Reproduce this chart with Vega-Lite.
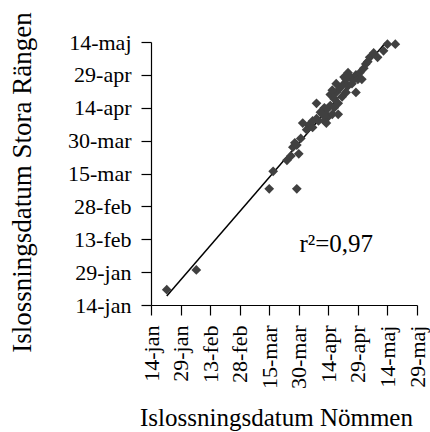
{
  "$schema": "https://vega.github.io/schema/vega-lite/v6.json",
  "autosize": {"type": "none"},
  "width": 266,
  "height": 263,
  "padding": {"left": 151, "top": 42, "right": 13, "bottom": 127},
  "background": "white",
  "config": {
    "view": {"stroke": null},
    "font": "Liberation Serif",
    "axis": {
      "grid": false,
      "domainColor": "black",
      "tickColor": "black",
      "labelColor": "black",
      "titleColor": "black",
      "labelFont": "Liberation Serif",
      "titleFont": "Liberation Serif",
      "labelFontSize": 22,
      "titleFontWeight": "normal",
      "tickSize": 10,
      "labelPadding": 10,
      "labelFlush": false,
      "labelOverlap": false,
      "domainWidth": 1.2,
      "tickWidth": 1.2
    }
  },
  "datasets": {
    "breakup": [
      {"n": "2001-01-22", "s": "2001-01-21"},
      {"n": "2001-02-06", "s": "2001-01-30"},
      {"n": "2001-03-15", "s": "2001-03-08"},
      {"n": "2001-03-29", "s": "2001-03-08"},
      {"n": "2001-03-17", "s": "2001-03-16"},
      {"n": "2001-03-24", "s": "2001-03-21"},
      {"n": "2001-03-27", "s": "2001-03-27"},
      {"n": "2001-03-30", "s": "2001-03-24"},
      {"n": "2001-03-28", "s": "2001-03-29"},
      {"n": "2001-03-31", "s": "2001-03-31"},
      {"n": "2001-04-01", "s": "2001-04-07"},
      {"n": "2001-04-04", "s": "2001-04-06"},
      {"n": "2001-04-06", "s": "2001-04-05"},
      {"n": "2001-04-08", "s": "2001-04-16"},
      {"n": "2001-04-09", "s": "2001-04-08"},
      {"n": "2001-04-11", "s": "2001-04-11"},
      {"n": "2001-04-12", "s": "2001-04-08"},
      {"n": "2001-04-13", "s": "2001-04-13"},
      {"n": "2001-04-14", "s": "2001-04-10"},
      {"n": "2001-04-15", "s": "2001-04-15"},
      {"n": "2001-04-16", "s": "2001-04-11"},
      {"n": "2001-04-17", "s": "2001-04-18"},
      {"n": "2001-04-17", "s": "2001-04-14"},
      {"n": "2001-04-18", "s": "2001-04-21"},
      {"n": "2001-04-19", "s": "2001-04-16"},
      {"n": "2001-04-20", "s": "2001-04-23"},
      {"n": "2001-04-21", "s": "2001-04-19"},
      {"n": "2001-04-22", "s": "2001-04-25"},
      {"n": "2001-04-23", "s": "2001-04-21"},
      {"n": "2001-04-23", "s": "2001-04-27"},
      {"n": "2001-04-24", "s": "2001-04-24"},
      {"n": "2001-04-25", "s": "2001-04-28"},
      {"n": "2001-04-26", "s": "2001-04-25"},
      {"n": "2001-04-27", "s": "2001-04-27"},
      {"n": "2001-04-28", "s": "2001-04-29"},
      {"n": "2001-04-28", "s": "2001-04-21"},
      {"n": "2001-04-29", "s": "2001-04-27"},
      {"n": "2001-04-30", "s": "2001-04-30"},
      {"n": "2001-05-02", "s": "2001-05-02"},
      {"n": "2001-05-03", "s": "2001-05-04"},
      {"n": "2001-05-04", "s": "2001-05-05"},
      {"n": "2001-05-05", "s": "2001-05-07"},
      {"n": "2001-05-07", "s": "2001-05-09"},
      {"n": "2001-05-12", "s": "2001-05-10"},
      {"n": "2001-05-14", "s": "2001-05-13"},
      {"n": "2001-05-18", "s": "2001-05-13"},
      {"n": "2001-04-12", "s": "2001-04-14"},
      {"n": "2001-04-10", "s": "2001-04-12"},
      {"n": "2001-04-06", "s": "2001-04-08"},
      {"n": "2001-04-03", "s": "2001-04-04"},
      {"n": "2001-04-18", "s": "2001-04-25"},
      {"n": "2001-04-22", "s": "2001-04-28"},
      {"n": "2001-04-15", "s": "2001-04-20"},
      {"n": "2001-04-16", "s": "2001-04-22"},
      {"n": "2001-04-24", "s": "2001-04-30"},
      {"n": "2001-04-19", "s": "2001-04-11"},
      {"n": "2001-04-13", "s": "2001-04-07"},
      {"n": "2001-04-08", "s": "2001-04-09"},
      {"n": "2001-05-01", "s": "2001-04-27"},
      {"n": "2001-05-09", "s": "2001-05-07"},
      {"n": "2001-03-29", "s": "2001-03-28"},
      {"n": "2001-03-26", "s": "2001-03-23"}
    ],
    "note": [{"label": "r²=0,97"}]
  },
  "layer": [
    {
      "data": {"name": "breakup", "format": {"parse": {"n": "date", "s": "date"}}},
      "transform": [{"regression": "s", "on": "n"}],
      "mark": {"type": "line", "color": "black", "strokeWidth": 1.5, "clip": true},
      "encoding": {
        "x": {
          "field": "n",
          "type": "temporal",
          "scale": {
            "type": "utc",
            "nice": false,
            "domain": [
              {"year": 2001, "month": 1, "date": 14, "utc": true},
              {"year": 2001, "month": 5, "date": 29, "utc": true}
            ]
          },
          "axis": {
            "title": "Islossningsdatum Nömmen",
            "titleFontSize": 25,
            "titleX": 125,
            "titleY": 120,
            "titleAlign": "center",
            "titleBaseline": "alphabetic",
            "labelAngle": 270,
            "tickCount": 30,
            "values": [
              {"year": 2001, "month": 1, "date": 14, "utc": true},
              {"year": 2001, "month": 1, "date": 29, "utc": true},
              {"year": 2001, "month": 2, "date": 13, "utc": true},
              {"year": 2001, "month": 2, "date": 28, "utc": true},
              {"year": 2001, "month": 3, "date": 15, "utc": true},
              {"year": 2001, "month": 3, "date": 30, "utc": true},
              {"year": 2001, "month": 4, "date": 14, "utc": true},
              {"year": 2001, "month": 4, "date": 29, "utc": true},
              {"year": 2001, "month": 5, "date": 14, "utc": true},
              {"year": 2001, "month": 5, "date": 29, "utc": true}
            ],
            "labelExpr": "utcFormat(datum.value, '%d') + '-' + ['jan','feb','mar','apr','maj','jun'][utcmonth(datum.value)]"
          }
        },
        "y": {
          "field": "s",
          "type": "temporal",
          "scale": {
            "type": "utc",
            "nice": false,
            "domain": [
              {"year": 2001, "month": 1, "date": 14, "utc": true},
              {"year": 2001, "month": 5, "date": 14, "utc": true}
            ]
          },
          "axis": {
            "title": "Islossningsdatum Stora Rängen",
            "titleFontSize": 27,
            "titleAngle": 270,
            "titleX": -121,
            "titleY": 140,
            "titleAlign": "center",
            "titleBaseline": "alphabetic",
            "tickCount": 30,
            "values": [
              {"year": 2001, "month": 1, "date": 14, "utc": true},
              {"year": 2001, "month": 1, "date": 29, "utc": true},
              {"year": 2001, "month": 2, "date": 13, "utc": true},
              {"year": 2001, "month": 2, "date": 28, "utc": true},
              {"year": 2001, "month": 3, "date": 15, "utc": true},
              {"year": 2001, "month": 3, "date": 30, "utc": true},
              {"year": 2001, "month": 4, "date": 14, "utc": true},
              {"year": 2001, "month": 4, "date": 29, "utc": true},
              {"year": 2001, "month": 5, "date": 14, "utc": true}
            ],
            "labelExpr": "utcFormat(datum.value, '%d') + '-' + ['jan','feb','mar','apr','maj','jun'][utcmonth(datum.value)]"
          }
        }
      }
    },
    {
      "data": {"name": "breakup", "format": {"parse": {"n": "date", "s": "date"}}},
      "mark": {"type": "point", "shape": "diamond", "filled": true, "size": 95, "color": "#404040", "opacity": 1},
      "encoding": {
        "x": {"field": "n", "type": "temporal"},
        "y": {"field": "s", "type": "temporal"}
      }
    },
    {
      "data": {"name": "note"},
      "mark": {"type": "text", "font": "Liberation Serif", "fontSize": 25, "align": "center", "baseline": "alphabetic", "color": "black"},
      "encoding": {
        "text": {"field": "label"},
        "x": {"datum": {"year": 2001, "month": 4, "date": 18, "utc": true}, "type": "temporal"},
        "y": {"datum": {"year": 2001, "month": 2, "date": 7, "utc": true}, "type": "temporal"}
      }
    }
  ]
}
